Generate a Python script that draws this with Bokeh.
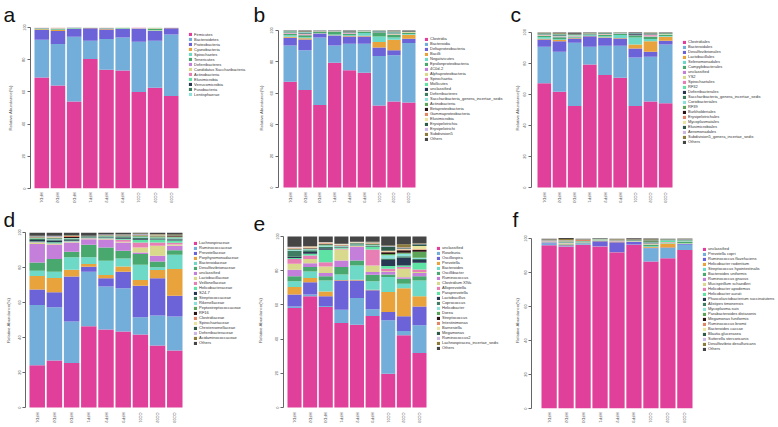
from bokeh.plotting import figure
from bokeh.models import Range1d, FixedTicker, Legend, LegendItem, ColumnDataSource
from bokeh.layouts import column, row
from bokeh.embed import file_html
from bokeh.resources import INLINE

samples = ["HFD1", "HFD2", "HFD3", "HFP1", "HFP2", "HFP3", "CC01", "CC02", "CC03"]
y_ticks = [0, 20, 40, 60, 80, 100]
y_label = "Relative Abundance(%)"

palette = ["#E0409A", "#73AEDA", "#6C63D9", "#E8A33C", "#6FD9C8", "#49A86E", "#C47FDB",
           "#D9D98E", "#E77FB5", "#5FE3A4", "#283852", "#3F7D62", "#8CE2DA", "#5CA558",
           "#2B1414", "#E0876A", "#E9E4A2", "#2E5A4A", "#CBB8E6", "#8C7B3A", "#454545"]

# ---- panel a : phylum ----
a_taxa = ["Firmicutes", "Bacteroidetes", "Proteobacteria", "Cyanobacteria", "Spirochaetes",
          "Tenericutes", "Deferribacteres", "Candidatus Saccharibacteria", "Actinobacteria",
          "Elusimicrobia", "Verrucomicrobia", "Fusobacteria", "Lentisphaerae"]
a_values = [
    [69.0, 63.9, 54.0, 80.5, 73.7, 73.3, 60.0, 62.6, 57.5],
    [23.4, 25.8, 40.3, 11.3, 19.1, 20.5, 31.2, 29.2, 38.2],
    [6.0, 8.2, 4.7, 7.8, 6.0, 5.2, 7.8, 6.1, 3.9],
    [0.5, 0.6, 0.3, 0.1, 0.3, 0.3, 0.1, 0.3, 0.1],
    [0.3, 0.2, 0.2, 0.0, 0.2, 0.3, 0.0, 0.2, 0.1],
    [0.3, 0.4, 0.2, 0.1, 0.2, 0.2, 0.2, 0.8, 0.1],
    [0.2, 0.3, 0.1, 0.1, 0.2, 0.1, 0.3, 0.2, 0.0],
    [0.2, 0.5, 0.1, 0.1, 0.2, 0.1, 0.1, 0.4, 0.0],
    [0.1, 0.1, 0.1, 0.0, 0.1, 0.0, 0.3, 0.1, 0.1],
    [0.0, 0.0, 0.0, 0.0, 0.0, 0.0, 0.0, 0.1, 0.0],
    [0.0, 0.0, 0.1, 0.0, 0.0, 0.0, 0.0, 0.0, 0.0],
    [0.0, 0.0, 0.0, 0.0, 0.0, 0.0, 0.0, 0.0, 0.0],
    [0.0, 0.0, 0.0, 0.0, 0.0, 0.0, 0.0, 0.0, 0.0],
]

# ---- panel b : class ----
b_taxa = ["Clostridia", "Bacteroidia", "Deltaproteobacteria", "Bacilli", "Negativicutes",
          "Epsilonproteobacteria", "4C0d-2", "Alphaproteobacteria", "Spirochaetia", "Mollicutes",
          "unclassified", "Deferribacteres", "Saccharibacteria_genera_incertae_sedis",
          "Actinobacteria", "Betaproteobacteria", "Gammaproteobacteria", "Elusimicrobia",
          "Erysipelotrichia", "Erysipelotrichi", "Subdivision5", "Others"]
b_values = [
    [67.4, 62.1, 52.6, 79.4, 74.7, 73.1, 52.2, 54.7, 54.1],
    [23.1, 25.3, 43.0, 11.1, 16.9, 18.5, 31.6, 29.5, 37.9],
    [4.9, 6.9, 2.4, 6.3, 4.6, 4.6, 5.3, 3.2, 2.7],
    [0.6, 0.8, 0.2, 0.2, 0.3, 0.4, 3.5, 6.7, 2.6],
    [0.9, 0.6, 0.2, 0.4, 0.5, 1.8, 3.6, 1.4, 0.5],
    [0.8, 1.2, 1.0, 2.0, 0.8, 0.8, 2.3, 1.6, 0.6],
    [0.3, 0.2, 0.0, 0.1, 0.3, 0.0, 0.0, 0.4, 0.2],
    [0.3, 0.4, 0.1, 0.1, 0.2, 0.1, 0.1, 0.2, 0.4],
    [0.3, 0.2, 0.1, 0.0, 0.2, 0.2, 0.1, 0.2, 0.1],
    [0.3, 0.3, 0.1, 0.1, 0.2, 0.1, 0.2, 0.3, 0.1],
    [0.2, 0.4, 0.0, 0.1, 0.1, 0.1, 0.4, 0.4, 0.1],
    [0.2, 0.3, 0.1, 0.1, 0.2, 0.1, 0.2, 0.2, 0.0],
    [0.2, 0.4, 0.0, 0.0, 0.2, 0.0, 0.1, 0.4, 0.0],
    [0.1, 0.1, 0.0, 0.0, 0.1, 0.0, 0.2, 0.1, 0.1],
    [0.1, 0.2, 0.0, 0.0, 0.1, 0.1, 0.1, 0.1, 0.1],
    [0.0, 0.1, 0.0, 0.0, 0.0, 0.0, 0.0, 0.1, 0.0],
    [0.0, 0.0, 0.0, 0.0, 0.0, 0.0, 0.0, 0.0, 0.0],
    [0.1, 0.1, 0.0, 0.0, 0.0, 0.0, 0.0, 0.1, 0.0],
    [0.0, 0.0, 0.0, 0.0, 0.0, 0.0, 0.0, 0.0, 0.0],
    [0.1, 0.1, 0.0, 0.0, 0.0, 0.0, 0.0, 0.1, 0.0],
    [0.1, 0.3, 0.2, 0.1, 0.6, 0.1, 0.1, 0.3, 0.5],
]

# ---- panel c : order ----
c_taxa = ["Clostridiales", "Bacteroidales", "Desulfovibrionales", "Lactobacillales",
          "Selenomonadales", "Campylobacterales", "unclassified", "YS2", "Spirochaetales", "RF32",
          "Deferribacterales", "Saccharibacteria_genera_incertae_sedis", "Coriobacteriales", "RF39",
          "Burkholderiales", "Erysipelotrichales", "Mycoplasmatales", "Elusimicrobiales",
          "Aeromonadales", "Subdivision5_genera_incertae_sedis", "Others"]
c_values = [
    [67.2, 61.8, 52.6, 79.4, 72.5, 70.8, 52.6, 55.4, 54.3],
    [23.6, 25.8, 40.7, 11.4, 18.9, 20.6, 31.3, 28.9, 38.0],
    [4.7, 6.8, 2.8, 6.8, 5.2, 4.7, 5.8, 3.3, 2.3],
    [0.5, 0.7, 0.3, 0.2, 0.3, 0.4, 2.6, 6.8, 2.6],
    [1.0, 0.6, 0.3, 0.4, 0.6, 1.9, 4.5, 1.4, 0.6],
    [0.8, 1.2, 0.5, 0.6, 0.8, 0.8, 1.4, 1.5, 0.6],
    [0.1, 0.3, 0.3, 0.2, 0.2, 0.1, 0.2, 0.3, 0.2],
    [0.3, 0.2, 0.4, 0.3, 0.3, 0.0, 0.0, 0.3, 0.2],
    [0.3, 0.2, 0.2, 0.0, 0.2, 0.2, 0.1, 0.6, 0.1],
    [0.3, 0.4, 0.3, 0.1, 0.2, 0.1, 0.1, 0.2, 0.4],
    [0.2, 0.3, 0.1, 0.1, 0.2, 0.1, 0.8, 0.2, 0.0],
    [0.2, 0.4, 0.1, 0.0, 0.2, 0.0, 0.1, 0.3, 0.0],
    [0.1, 0.1, 0.1, 0.0, 0.1, 0.0, 0.1, 0.1, 0.1],
    [0.2, 0.3, 0.2, 0.1, 0.1, 0.1, 0.1, 0.2, 0.1],
    [0.1, 0.2, 0.1, 0.0, 0.1, 0.1, 0.2, 0.1, 0.1],
    [0.1, 0.1, 0.0, 0.0, 0.0, 0.0, 0.0, 0.1, 0.0],
    [0.0, 0.0, 0.0, 0.0, 0.0, 0.0, 0.0, 0.0, 0.0],
    [0.0, 0.0, 0.0, 0.0, 0.0, 0.0, 0.0, 0.0, 0.0],
    [0.0, 0.0, 0.0, 0.0, 0.0, 0.0, 0.0, 0.0, 0.0],
    [0.1, 0.2, 0.1, 0.0, 0.0, 0.0, 0.0, 0.1, 0.0],
    [0.2, 0.4, 0.9, 0.3, 0.1, 0.1, 0.1, 0.2, 0.4],
]

# ---- panel d : family ----
d_taxa = ["Lachnospiraceae", "Ruminococcaceae", "Prevotellaceae", "Porphyromonadaceae",
          "Bacteroidaceae", "Desulfovibrionaceae", "unclassified", "Lactobacillaceae",
          "Veillonellaceae", "Helicobacteraceae", "S24-7", "Streptococcaceae", "Rikenellaceae",
          "Peptostreptococcaceae", "RF16", "Clostridiaceae", "Spirochaetaceae",
          "Christensenellaceae", "Deferribacteraceae", "Acidaminococcaceae", "Others"]
d_values = [
    [24.1, 26.9, 25.4, 46.5, 44.6, 43.5, 41.7, 35.5, 32.6],
    [34.5, 30.4, 23.7, 31.1, 24.5, 24.6, 9.9, 17.1, 19.4],
    [8.8, 8.5, 25.7, 2.9, 4.7, 9.5, 18.0, 21.2, 11.9],
    [7.7, 8.2, 3.9, 1.5, 1.9, 3.0, 3.3, 4.8, 15.2],
    [3.1, 3.6, 7.1, 3.8, 8.2, 4.6, 8.7, 1.5, 8.2],
    [4.7, 7.2, 3.2, 7.2, 7.6, 4.4, 6.1, 3.4, 2.6],
    [10.5, 8.0, 5.3, 3.2, 4.3, 4.7, 0.9, 3.2, 2.5],
    [0.7, 0.5, 0.3, 0.2, 0.3, 0.4, 2.9, 5.7, 0.8],
    [0.3, 0.4, 0.3, 0.3, 0.5, 1.2, 2.8, 1.9, 1.0],
    [0.5, 0.8, 0.4, 0.3, 0.5, 0.6, 1.5, 1.5, 1.2],
    [0.8, 1.0, 0.6, 0.2, 0.3, 0.5, 0.5, 0.4, 0.6],
    [0.6, 0.5, 0.4, 0.2, 0.3, 0.4, 0.8, 0.5, 0.6],
    [0.3, 0.4, 0.4, 0.2, 0.2, 0.3, 0.5, 0.4, 0.5],
    [0.3, 0.3, 0.2, 0.1, 0.2, 0.2, 0.4, 0.6, 0.4],
    [0.2, 0.3, 0.5, 0.1, 0.1, 0.2, 0.3, 0.2, 0.3],
    [0.2, 0.2, 0.6, 0.1, 0.1, 0.2, 0.2, 0.2, 0.3],
    [0.3, 0.2, 0.2, 0.0, 0.2, 0.2, 0.1, 0.3, 0.1],
    [0.2, 0.3, 0.2, 0.1, 0.1, 0.2, 0.3, 0.3, 0.2],
    [0.2, 0.3, 0.1, 0.1, 0.2, 0.1, 0.3, 0.2, 0.1],
    [0.1, 0.1, 0.1, 0.1, 0.1, 0.2, 0.3, 0.2, 0.3],
    [1.9, 1.9, 1.4, 1.8, 1.1, 1.0, 0.5, 0.9, 1.2],
]

# ---- panel e : genus ----
e_taxa = ["unclassified", "Roseburia", "Oscillospira", "Prevotella", "Bacteroides",
          "Oscillibacter", "Ruminococcus", "Clostridium XlVa", "Alloprevotella", "Paraprevotella",
          "Lactobacillus", "Coprococcus", "Helicobacter", "Dorea", "Streptococcus",
          "Intestinimonas", "Barnesiella", "Megamonas", "Ruminococcus2",
          "Lachnospiracea_incertae_sedis", "Others"]
e_values = [
    [58.2, 65.0, 58.8, 49.4, 48.4, 53.5, 19.8, 42.2, 31.9],
    [0.9, 1.1, 0.5, 7.8, 15.6, 3.9, 31.2, 2.5, 16.2],
    [7.0, 7.2, 5.7, 17.1, 10.3, 11.1, 4.8, 8.6, 11.0],
    [4.3, 2.4, 2.9, 0.3, 0.4, 0.3, 11.7, 16.5, 5.9],
    [3.5, 3.9, 6.4, 3.2, 8.4, 5.1, 8.8, 2.6, 9.3],
    [2.9, 2.5, 2.4, 4.3, 2.9, 3.7, 1.5, 2.9, 2.5],
    [3.7, 2.3, 1.9, 3.9, 7.8, 1.6, 1.4, 0.8, 1.8],
    [3.5, 2.5, 3.9, 6.4, 0.5, 3.9, 0.5, 5.0, 0.6],
    [2.9, 2.0, 2.5, 0.5, 0.3, 9.3, 1.5, 1.0, 1.5],
    [0.5, 1.0, 7.2, 0.5, 0.3, 1.4, 1.5, 1.0, 4.0],
    [0.8, 1.0, 1.0, 0.3, 0.2, 0.3, 3.5, 4.5, 1.5],
    [3.5, 1.0, 0.8, 0.4, 0.3, 0.4, 1.0, 0.8, 0.6],
    [0.5, 0.6, 0.8, 0.3, 0.3, 0.4, 1.8, 1.5, 0.8],
    [0.3, 0.4, 0.5, 0.2, 0.3, 0.6, 0.8, 0.6, 3.5],
    [0.3, 0.3, 0.3, 0.2, 0.2, 0.2, 1.0, 1.5, 1.0],
    [0.4, 0.3, 0.4, 0.3, 0.2, 0.4, 0.5, 0.4, 0.4],
    [0.3, 0.3, 0.3, 0.3, 0.2, 0.3, 0.4, 0.3, 2.0],
    [0.1, 0.1, 0.1, 0.1, 0.1, 0.1, 2.5, 0.5, 1.0],
    [0.2, 0.3, 0.2, 0.1, 0.1, 0.2, 0.2, 0.3, 0.2],
    [0.2, 0.3, 0.2, 0.1, 0.1, 0.2, 0.3, 2.0, 0.3],
    [6.0, 5.5, 3.2, 4.3, 3.1, 3.1, 5.3, 4.5, 4.0],
]

# ---- panel f : species ----
f_taxa = ["unclassified", "Prevotella copri", "Ruminococcus flavefaciens", "Helicobacter rodentium",
          "Streptococcus hyointestinalis", "Bacteroides uniformis", "Ruminococcus gnavus",
          "Mucispirillum schaedleri", "Helicobacter apodemus", "Helicobacter aurati",
          "Phascolarctobacterium succinatutens", "Alistipes timonensis", "Mycoplasma suis",
          "Parabacteroides distasonis", "Megamonas funiformis", "Ruminococcus bromii",
          "Bacteroides caccae", "Blautia glucerasea", "Sutterella stercoricanis",
          "Desulfovibrio desulfuricans", "Others"]
f_values = [
    [96.1, 95.3, 96.3, 95.3, 91.9, 96.3, 86.4, 88.4, 93.3],
    [1.0, 0.3, 0.4, 0.2, 0.2, 0.2, 7.9, 6.0, 3.0],
    [0.6, 0.4, 0.3, 2.9, 5.7, 1.5, 0.3, 0.3, 0.5],
    [0.1, 0.5, 0.1, 0.1, 0.1, 0.1, 0.4, 2.4, 0.2],
    [0.1, 0.1, 0.1, 0.1, 0.1, 0.1, 0.5, 0.2, 0.3],
    [0.2, 0.2, 0.5, 0.1, 0.1, 0.1, 0.8, 0.2, 0.6],
    [0.1, 0.2, 0.1, 0.1, 0.1, 0.1, 0.2, 0.1, 0.2],
    [0.2, 0.3, 0.1, 0.1, 0.2, 0.1, 0.3, 0.2, 0.0],
    [0.1, 0.2, 0.1, 0.1, 0.1, 0.1, 0.2, 0.2, 0.1],
    [0.1, 0.3, 0.1, 0.1, 0.1, 0.1, 0.2, 0.8, 0.3],
    [0.1, 0.1, 0.1, 0.1, 0.1, 0.1, 0.3, 0.1, 0.1],
    [0.1, 0.2, 0.1, 0.1, 0.1, 0.1, 0.3, 0.1, 0.2],
    [0.1, 0.1, 0.1, 0.1, 0.1, 0.1, 0.1, 0.1, 0.1],
    [0.1, 0.2, 0.1, 0.1, 0.1, 0.1, 0.5, 0.1, 0.2],
    [0.0, 0.0, 0.0, 0.0, 0.0, 0.0, 0.1, 0.0, 0.0],
    [0.1, 0.2, 0.8, 0.1, 0.1, 0.1, 0.1, 0.1, 0.1],
    [0.1, 0.1, 0.1, 0.1, 0.1, 0.1, 0.2, 0.1, 0.1],
    [0.1, 0.1, 0.1, 0.1, 0.1, 0.1, 0.4, 0.1, 0.3],
    [0.0, 0.1, 0.0, 0.0, 0.0, 0.0, 0.1, 0.0, 0.1],
    [0.1, 0.8, 0.1, 0.1, 0.2, 0.1, 0.3, 0.1, 0.1],
    [0.5, 0.6, 0.3, 0.2, 0.3, 0.6, 0.4, 0.3, 0.2],
]

FONT = "Liberation Sans"
ITEM_H = 5.15  # rendered height of one legend row (px)


def make_panel(letter, taxa, values, W, H, L, B0, B1, T, Bt, LX, LY,
               ylab_c, lx, T_row, Bt_row):
    # frames in one row share top/bottom; each panel's 0..100 span set via y_range
    lb = L
    tb = T_row
    bb = H - Bt_row
    FW = W - lb
    FH = H - tb - bb
    slot = (B1 - B0) / 8.9
    x0 = -0.45 - (B0 - L) / slot
    x1 = x0 + FW / slot
    ppu = (Bt - T) / 100.0
    y1 = 100 + (T - T_row) / ppu
    y0 = -(Bt_row - Bt) / ppu

    p = figure(width=W, height=H, output_backend="svg", toolbar_location=None,
               x_range=Range1d(x0, x1), y_range=Range1d(y0, y1),
               min_border_left=lb, min_border_right=0, min_border_top=tb,
               min_border_bottom=bb)
    p.outline_line_color = None
    p.xgrid.visible = False
    p.ygrid.visible = False
    p.background_fill_color = "white"
    p.border_fill_color = "white"

    p.title.text = letter
    p.title.align = "left"
    p.title.vertical_align = "top"
    p.title.offset = lx - lb
    p.title.standoff = 0
    p.title.text_font = FONT
    p.title.text_font_size = "21px"
    p.title.text_font_style = "normal"
    p.title.text_color = "#111111"

    data = {"x": list(range(len(samples)))}
    keys = []
    for i, vals in enumerate(values):
        k = "t%d" % i
        keys.append(k)
        data[k] = vals
    src = ColumnDataSource(data)
    rends = p.vbar_stack(keys, x="x", width=0.9, source=src,
                         color=palette[:len(keys)], line_color=None)

    xa = p.xaxis[0]
    xa.ticker = FixedTicker(ticks=list(range(len(samples))))
    xa.major_label_overrides = {i: s for i, s in enumerate(samples)}
    xa.major_label_orientation = "vertical"
    xa.axis_line_color = None
    xa.major_tick_line_color = None
    xa.major_tick_out = 0
    xa.major_tick_in = 0
    xa.minor_tick_line_color = None
    xa.minor_tick_out = 0
    xa.major_label_text_font = FONT
    xa.major_label_text_font_size = "4px"
    xa.major_label_text_color = "#555555"
    xa.major_label_standoff = 4

    ya = p.yaxis[0]
    ya.ticker = FixedTicker(ticks=y_ticks)
    ya.bounds = (0, 100)
    ya.major_label_orientation = "vertical"
    ya.axis_line_color = "#666666"
    ya.major_tick_line_color = "#666666"
    ya.major_tick_out = 3
    ya.major_tick_in = 0
    ya.minor_tick_line_color = None
    ya.minor_tick_out = 0
    ya.major_label_text_font = FONT
    ya.major_label_text_font_size = "4px"
    ya.major_label_text_color = "#555555"
    ya.major_label_standoff = 2
    ya.axis_label = y_label
    ya.axis_label_text_font = FONT
    ya.axis_label_text_font_size = "4.3px"
    ya.axis_label_text_font_style = "normal"
    ya.axis_label_text_color = "#555555"
    ya.axis_label_standoff = max(0, round(lb - ylab_c - 3 - 2 - 5 - 2.7))

    n = len(taxa)
    leg_h = n * ITEM_H
    items = [LegendItem(label=t, renderers=[r]) for t, r in zip(taxa, rends)]
    leg = Legend(items=items,
                 location=(LX - lb, FH - (LY - T_row) - leg_h),
                 orientation="vertical", spacing=0, padding=0, margin=0,
                 glyph_width=4, glyph_height=4, label_height=5,
                 label_standoff=2, label_text_font=FONT,
                 label_text_font_size="4px", label_text_color="#333333",
                 border_line_color=None, background_fill_alpha=0)
    p.add_layout(leg)
    return p


# cell widths 250, 258, 268 ; row heights 205, 220  (page 776 x 425)
pa = make_panel("a", a_taxa, a_values, 250, 205, 30, 34, 178, 27, 189, 188, 31, 10, 3, 27, 189)
pb = make_panel("b", b_taxa, b_values, 258, 205, 28, 33, 165, 30, 188, 174, 34, 11, 3, 27, 189)
pc = make_panel("c", c_taxa, c_values, 268, 205, 23, 29, 164, 32, 188, 174, 37, 9, 2, 27, 189)
pd = make_panel("d", d_taxa, d_values, 250, 220, 25, 29, 182, 27, 202, 193, 32, 8, 3, 27, 203)
pe = make_panel("e", e_taxa, e_values, 258, 220, 33, 37, 176, 31, 202, 186, 37, 10, 3, 27, 203)
pf = make_panel("f", f_taxa, f_values, 268, 220, 23, 33, 184, 33, 203, 194, 38, 9, 4, 27, 203)

layout = column(row(pa, pb, pc), row(pd, pe, pf))

html = file_html(layout, INLINE)
open("out.html", "w").write(html)
